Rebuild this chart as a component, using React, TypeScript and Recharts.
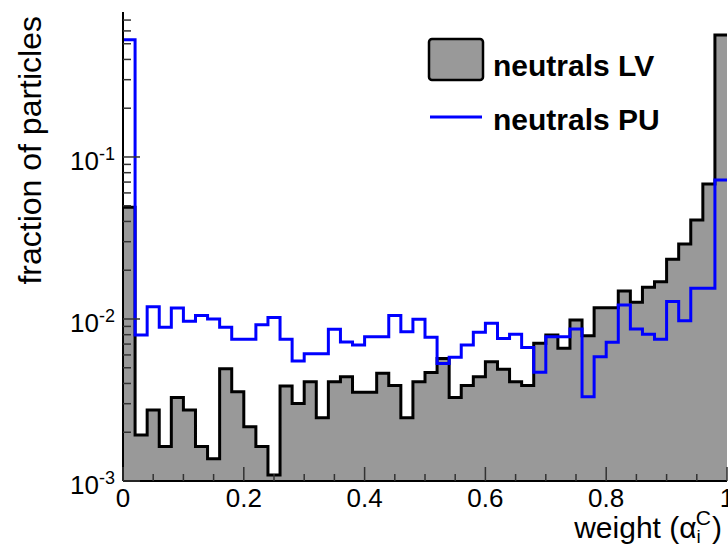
import { ComposedChart, Area, Line, XAxis, YAxis, Label } from 'recharts';

// fraction of particles per weight bin (50 bins of 0.02)
const neutralsLV = [
  0.049, 0.00192, 0.00274, 0.00163, 0.00328, 0.00274, 0.00163, 0.00137, 0.00493, 0.00356,
  0.00216, 0.00163, 0.00109, 0.00386, 0.00301, 0.0041, 0.00246, 0.0041, 0.0044, 0.00353,
  0.00353, 0.00462, 0.00388, 0.00246, 0.0041, 0.00467, 0.00571, 0.00328, 0.00388, 0.0044,
  0.00545, 0.0049, 0.0041, 0.00388, 0.00708, 0.00796, 0.00659, 0.00986, 0.00788, 0.01175,
  0.01175, 0.0149, 0.01268, 0.0157, 0.017, 0.0234, 0.029, 0.0408, 0.0681, 0.566,
];

const neutralsPU = [
  0.53, 0.00796, 0.0119, 0.0089, 0.0117, 0.0097, 0.0105, 0.01, 0.0089, 0.0075,
  0.0075, 0.0092, 0.0102, 0.0075, 0.0055, 0.0061, 0.0061, 0.00863, 0.00721, 0.00691,
  0.00778, 0.00778, 0.0105, 0.00835, 0.00996, 0.00771, 0.00532, 0.0058, 0.00691, 0.00828,
  0.0094, 0.00757, 0.00804, 0.00668, 0.00469, 0.00778, 0.00778, 0.00867, 0.00331, 0.00585,
  0.00718, 0.0122, 0.00867, 0.00804, 0.0075, 0.0128, 0.00977, 0.0155, 0.0155, 0.0721,
];

const binWidth = 0.02;

const xTicks = [
  0, 0.05, 0.1, 0.15, 0.2, 0.25, 0.3, 0.35, 0.4, 0.45, 0.5,
  0.55, 0.6, 0.65, 0.7, 0.75, 0.8, 0.85, 0.9, 0.95, 1,
];
const xLabels = ['0', '0.2', '0.4', '0.6', '0.8', '1'];

const yTicks = [
  0.001, 0.002, 0.003, 0.004, 0.005, 0.006, 0.007, 0.008, 0.009,
  0.01, 0.02, 0.03, 0.04, 0.05, 0.06, 0.07, 0.08, 0.09,
  0.1, 0.2, 0.3, 0.4, 0.5, 0.6, 0.7,
];

// step-after histogram: one point per lower bin edge, plus the closing edge at 1
const data = neutralsLV
  .map((lv, i) => ({ x: +(i * binWidth).toFixed(2), lv, pu: neutralsPU[i] }))
  .concat([{ x: 1, lv: neutralsLV[49], pu: neutralsPU[49] }]);

const FONT = '"Liberation Sans", Arial, Helvetica, sans-serif';
const TICK_COLOR = '#333';

function XTick(props: any) {
  const { x, y, payload, top } = props;
  const v = payload.value;
  const idx = Math.round(v * 20);
  const major = idx % 4 === 0;
  const len = major ? 14 : 7;
  if (top) {
    return <line x1={x} x2={x} y1={y} y2={y + len} stroke={TICK_COLOR} strokeWidth={1.5} />;
  }
  return (
    <g>
      <line x1={x} x2={x} y1={y} y2={y - len} stroke={TICK_COLOR} strokeWidth={1.5} />
      {major && (
        <text x={x} y={y + 26} textAnchor="middle" fontSize={26} fontFamily={FONT} fill="#000">
          {xLabels[idx / 4]}
        </text>
      )}
    </g>
  );
}

function YTick(props: any) {
  const { x, y, payload, right } = props;
  const v = payload.value;
  const exp = Math.log10(v);
  const major = Math.abs(exp - Math.round(exp)) < 1e-6;
  const len = major ? 17 : 8;
  if (right) {
    return <line x1={x} x2={x - len} y1={y} y2={y} stroke={TICK_COLOR} strokeWidth={1.5} />;
  }
  return (
    <g>
      <line x1={x} x2={x + len} y1={y} y2={y} stroke={TICK_COLOR} strokeWidth={1.5} />
      {major && (
        <text x={x - 8} y={y + 13} textAnchor="end" fontSize={26} fontFamily={FONT} fill="#000">
          10
          <tspan fontSize={18} dy={-10}>{String(Math.round(exp))}</tspan>
        </text>
      )}
    </g>
  );
}

const XTitle = ({ viewBox }: any) => (
  <text
    x={viewBox.x + viewBox.width - 5}
    y={viewBox.y + 57}
    textAnchor="end"
    fontSize={30}
    fontFamily={FONT}
    fill="#000"
  >
    weight (α
    <tspan fontSize={19} dy={5}>i</tspan>
    <tspan fontSize={21} dx={-5} dy={-18}>C</tspan>
    <tspan dy={13} dx={1}>)</tspan>
  </text>
);

const YTitle = ({ viewBox }: any) => (
  <text
    transform={`translate(41, ${viewBox.y + 4}) rotate(-90)`}
    textAnchor="end"
    fontSize={32}
    fontFamily={FONT}
    fill="#000"
  >
    fraction of particles
  </text>
);

function LegendBox() {
  return (
    <svg
      width={728}
      height={548}
      style={{ position: 'absolute', left: 0, top: 0, pointerEvents: 'none' }}
    >
      <rect x={429} y={39} width={54} height={41} rx={3} fill="#999999" stroke="#000" strokeWidth={2.5} />
      <text x={493} y={76} fontSize={30} fontWeight="bold" fontFamily={FONT} fill="#000">
        neutrals LV
      </text>
      <line x1={430} x2={482} y1={117} y2={117} stroke="#0000ff" strokeWidth={3} />
      <text x={493} y={130} fontSize={30} fontWeight="bold" fontFamily={FONT} fill="#000">
        neutrals PU
      </text>
    </svg>
  );
}

export default function App() {
  return (
    <div style={{ position: 'absolute', left: 0, top: 0, width: 728, height: 548, background: '#fff' }}>
      <ComposedChart
        width={728}
        height={548}
        data={data}
        margin={{ top: 12, right: 1, bottom: 0, left: 0 }}
        style={{ fontFamily: FONT }}
      >
        <Area
          xAxisId="bottom"
          yAxisId="left"
          type="stepAfter"
          dataKey="lv"
          baseValue={0.001}
          fill="#999999"
          fillOpacity={1}
          stroke="#000"
          strokeWidth={3}
          isAnimationActive={false}
        />
        <Line
          xAxisId="bottom"
          yAxisId="left"
          type="stepAfter"
          dataKey="pu"
          stroke="#0000ff"
          strokeWidth={3}
          dot={false}
          isAnimationActive={false}
        />
        <XAxis
          xAxisId="bottom"
          dataKey="x"
          type="number"
          domain={[0, 1]}
          allowDataOverflow
          ticks={xTicks}
          interval={0}
          height={67}
          tickSize={0}
          tickMargin={0}
          tickLine={false}
          axisLine={{ stroke: '#000', strokeWidth: 2 }}
          tick={(p: any) => <XTick {...p} />}
        >
          <Label content={XTitle} />
        </XAxis>
        <XAxis
          xAxisId="top"
          orientation="top"
          dataKey="x"
          type="number"
          domain={[0, 1]}
          allowDataOverflow
          ticks={xTicks}
          interval={0}
          height={0}
          tickSize={0}
          tickMargin={0}
          tickLine={false}
          axisLine={{ stroke: '#000', strokeWidth: 2 }}
          tick={(p: any) => <XTick {...p} top />}
        />
        <YAxis
          yAxisId="left"
          scale="log"
          domain={[0.001, 0.785]}
          allowDataOverflow
          ticks={yTicks}
          interval={0}
          width={123}
          tickSize={0}
          tickMargin={0}
          tickLine={false}
          axisLine={{ stroke: '#000', strokeWidth: 2 }}
          tick={(p: any) => <YTick {...p} />}
        >
          <Label content={YTitle} />
        </YAxis>
        <YAxis
          yAxisId="right"
          orientation="right"
          scale="log"
          domain={[0.001, 0.785]}
          allowDataOverflow
          ticks={yTicks}
          interval={0}
          width={0}
          tickSize={0}
          tickMargin={0}
          tickLine={false}
          axisLine={{ stroke: '#000', strokeWidth: 2 }}
          tick={(p: any) => <YTick {...p} right />}
        />
      </ComposedChart>
      <LegendBox />
    </div>
  );
}
